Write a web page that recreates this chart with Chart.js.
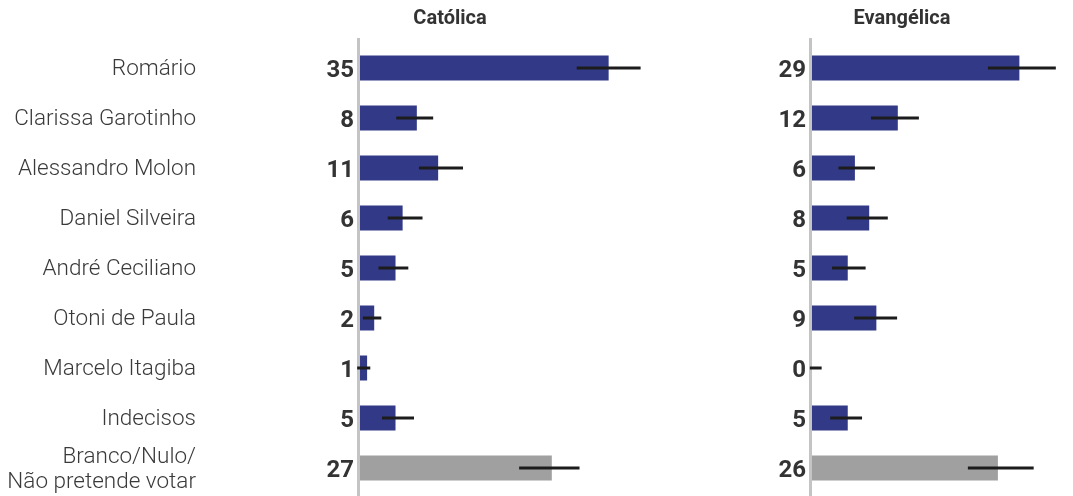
<!DOCTYPE html>
<html>
<head>
<meta charset="utf-8">
<script src="https://cdn.jsdelivr.net/npm/chart.js@4/dist/chart.umd.min.js"></script>
<style>
  html, body { margin: 0; padding: 0; background: #fff; }
  #wrap { position: relative; width: 1073px; height: 496px; overflow: hidden; }
  canvas { position: absolute; top: 0; }
</style>
</head>
<body>
<div id="wrap">
  <canvas id="c1" width="701" height="496" style="left:0px"></canvas>
  <canvas id="c2" width="372" height="496" style="left:701px"></canvas>
</div>
<script>
const categories = ['Romário', 'Clarissa Garotinho', 'Alessandro Molon', 'Daniel Silveira', 'André Ceciliano', 'Otoni de Paula', 'Marcelo Itagiba', 'Indecisos', ['Branco/Nulo/', 'Não pretende votar']];
const panelTitles = ['Católica', 'Evangélica'];
const catolica = [35, 8, 11, 6, 5, 2, 1, 5, 27];
const catolicaLow = [30.5, 5.1, 8.3, 3.9, 2.6, 0.4, -0.4, 3.1, 22.4];
const catolicaHigh = [39.5, 10.3, 14.5, 8.8, 6.8, 3.0, 1.45, 7.6, 30.9];
const evangelica = [29, 12, 6, 8, 5, 9, 0, 5, 26];
const evangelicaLow = [24.6, 8.25, 3.7, 4.85, 2.8, 5.9, -0.3, 2.55, 21.8];
const evangelicaHigh = [34.1, 14.95, 8.8, 10.6, 7.5, 11.9, 1.35, 7.0, 31.0];

const NAVY = '#323a87';
const GREY = '#a0a0a0';
const FONT = 'Roboto, "Noto Sans", "DejaVu Sans", sans-serif';
const barColors = categories.map((c, i) => i === categories.length - 1 ? GREY : NAVY);

const panelPlugin = {
  id: 'panel',
  afterDatasetsDraw(chart, args, opts) {
    const ctx = chart.ctx;
    const xs = chart.scales.x, ys = chart.scales.y;
    const x0 = xs.getPixelForValue(0);
    ctx.save();
    // axis line
    ctx.strokeStyle = '#c4c4c4';
    ctx.lineWidth = 3;
    ctx.beginPath();
    ctx.moveTo(x0 - 1.5, chart.chartArea.top - 5);
    ctx.lineTo(x0 - 1.5, chart.height);
    ctx.stroke();
    // error bars
    ctx.strokeStyle = '#1c1c1c';
    ctx.lineWidth = 3;
    opts.values.forEach((v, i) => {
      const y = ys.getPixelForValue(i);
      ctx.beginPath();
      ctx.moveTo(xs.getPixelForValue(opts.low[i]), y);
      ctx.lineTo(xs.getPixelForValue(opts.high[i]), y);
      ctx.stroke();
    });
    // value labels
    ctx.fillStyle = '#333333';
    ctx.font = 'bold 24px ' + FONT;
    ctx.textAlign = 'right';
    ctx.textBaseline = 'alphabetic';
    opts.values.forEach((v, i) => {
      const y = ys.getPixelForValue(i);
      ctx.fillText(String(v), x0 - 6, y + 8.5);
    });
    // title
    ctx.font = 'bold 20px ' + FONT;
    ctx.textAlign = 'center';
    ctx.fillText(opts.title, x0 + 90, 24);
    ctx.restore();
  }
};

function makeChart(id, values, low, high, title, xMax, showLabels, padLeft) {
  return new Chart(document.getElementById(id), {
    type: 'bar',
    data: {
      labels: categories,
      datasets: [{
        data: values,
        backgroundColor: barColors,
        borderWidth: 0,
        barPercentage: 0.5,
        categoryPercentage: 1.0
      }]
    },
    options: {
      indexAxis: 'y',
      responsive: false,
      animation: false,
      events: [],
      layout: { padding: { top: 43, bottom: 3, left: padLeft, right: 0 } },
      scales: {
        x: { display: false, min: 0, max: xMax },
        y: {
          display: showLabels,
          grid: { display: false, drawTicks: false },
          border: { display: false },
          ticks: {
            autoSkip: false,
            padding: 164,
            labelOffset: 1.5,
            color: '#3a3a3a',
            font: { family: FONT, size: 22.5, weight: 300, lineHeight: 1.12 }
          },
          afterFit(scale) {
            scale.width = showLabels ? 360 : 0;
            scale.paddingTop = 0;
            scale.paddingBottom = 0;
          }
        }
      },
      plugins: {
        legend: { display: false },
        tooltip: { enabled: false },
        panel: { values, low, high, title }
      }
    },
    plugins: [panelPlugin]
  });
}

makeChart('c1', catolica, catolicaLow, catolicaHigh, panelTitles[0], 48, true, 0);
makeChart('c2', evangelica, evangelicaLow, evangelicaHigh, panelTitles[1], 36.5, false, 111);
</script>
</body>
</html>
